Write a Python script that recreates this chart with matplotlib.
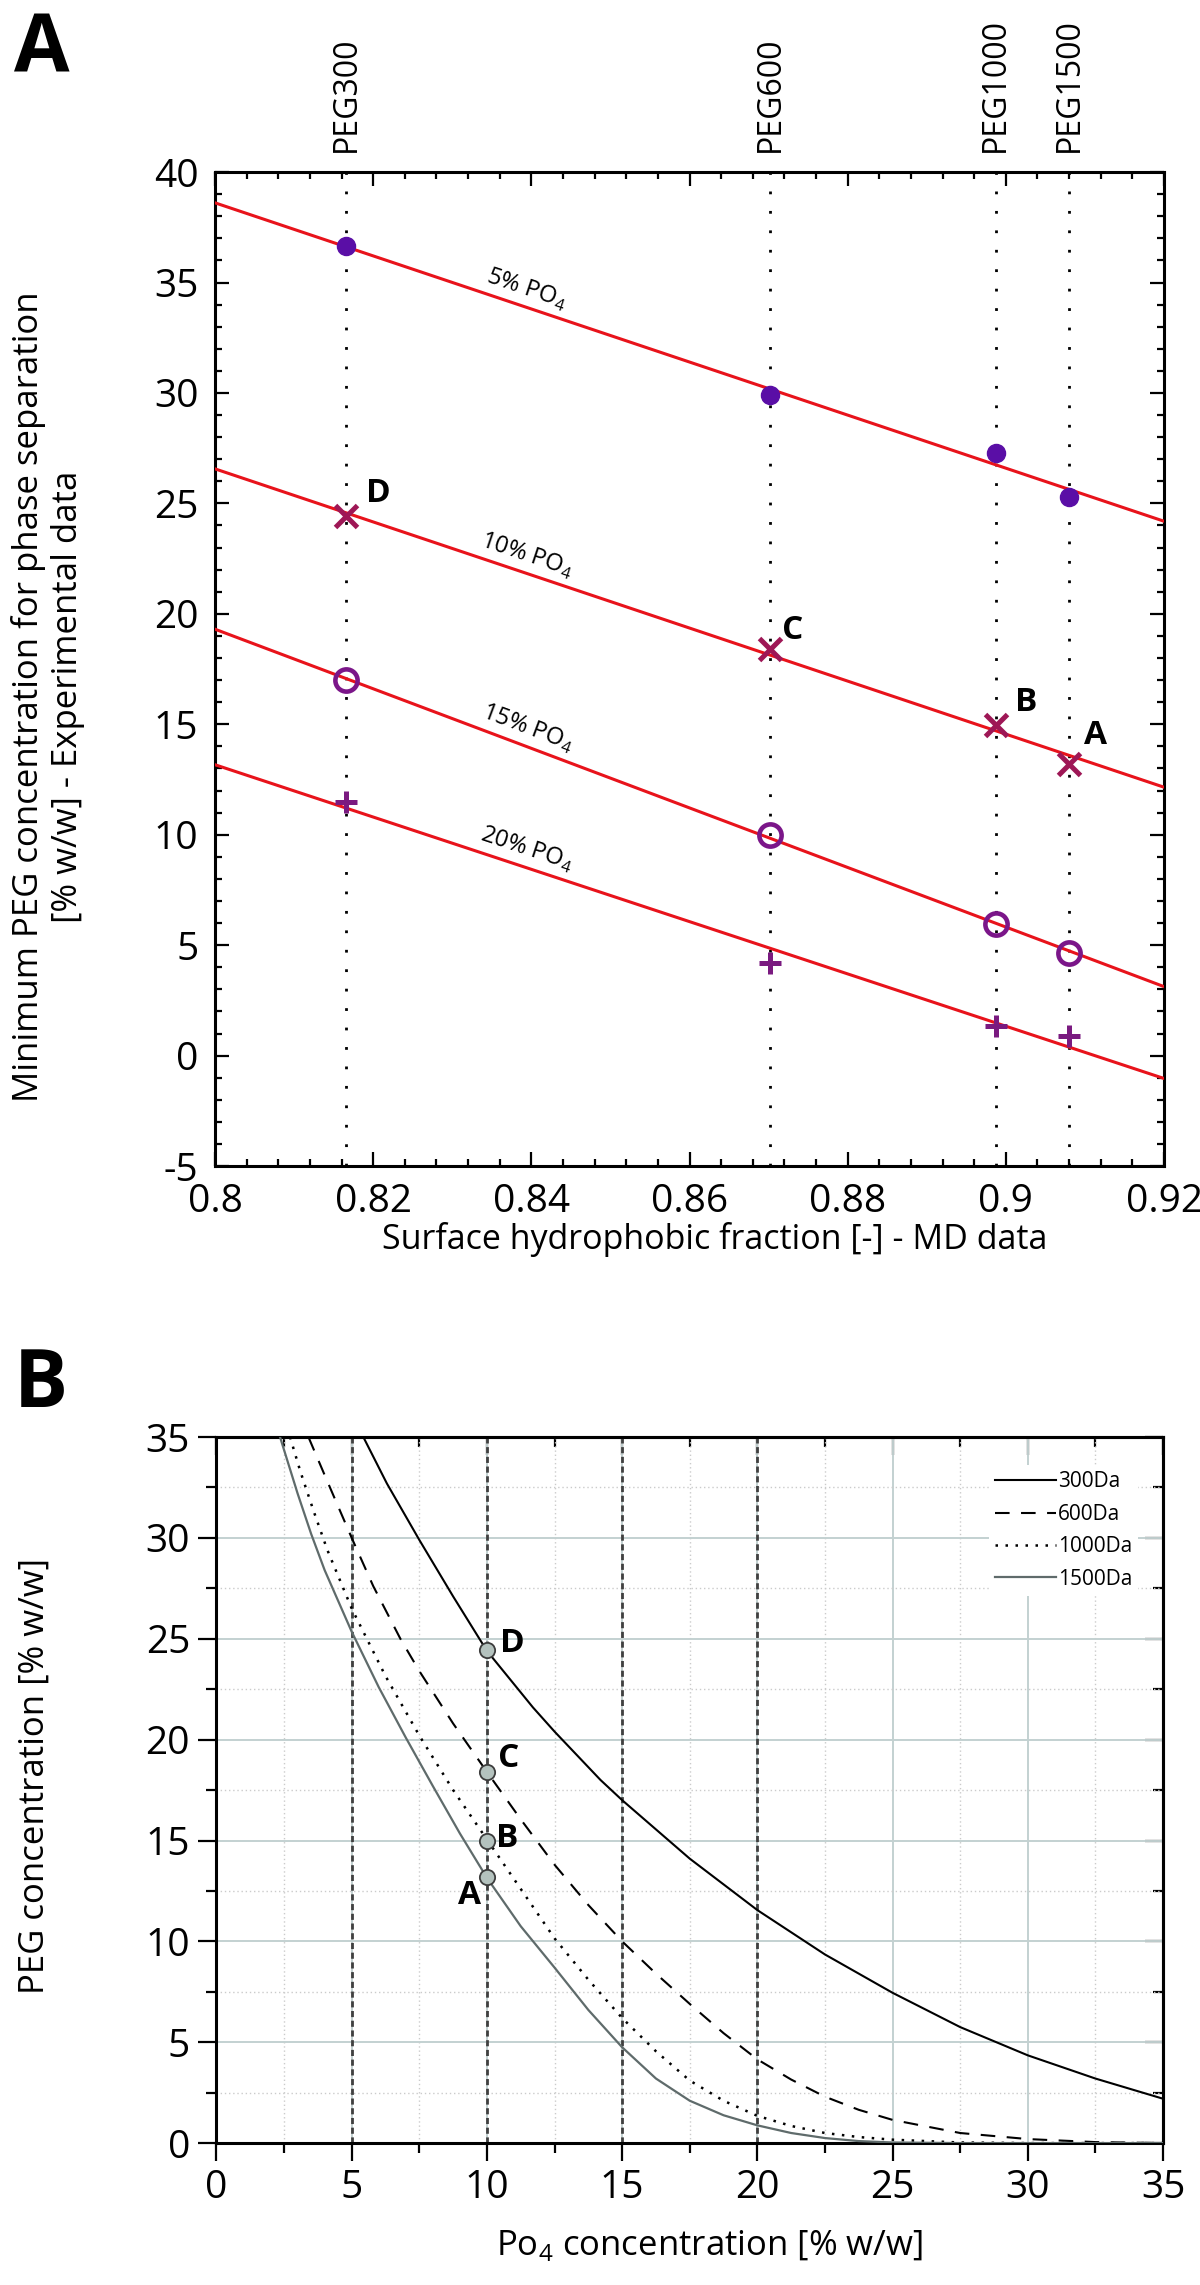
import numpy as np
import matplotlib
matplotlib.use("Agg")
import matplotlib.pyplot as plt
import matplotlib.transforms as mtransforms
from matplotlib.ticker import MultipleLocator

plt.rcParams['font.family'] = ['Open Sans', 'DejaVu Sans']
plt.rcParams['mathtext.fontset'] = 'custom'
plt.rcParams['mathtext.rm'] = 'Open Sans'
plt.rcParams['axes.unicode_minus'] = False

# ---- panel A data: minimum PEG for phase separation vs hydrophobic fraction
peg_names = ["PEG300", "PEG600", "PEG1000", "PEG1500"]
hydro_frac = [0.8166, 0.8702, 0.8987, 0.908]
po4_labels = ["5%", "10%", "15%", "20%"]
peg_min_5 = [36.67, 29.9, 27.3, 25.3]
peg_min_10 = [24.43, 18.4, 14.98, 13.19]
peg_min_15 = [17.0, 10.0, 5.98, 4.66]
peg_min_20 = [11.5, 4.17, 1.36, 0.90]
point_letters = ["D", "C", "B", "A"]

# ---- panel B data: binodal curves
po4_300 = [5.43, 6.3, 7.5, 8.75, 10, 11.7, 12.5, 14.2, 15, 17.5, 20, 22.5, 25, 27.5, 30, 32.5, 35]
peg_300 = [35, 32.7, 29.9, 27.1, 24.4, 21.6, 20.4, 18.0, 17.0, 14.1, 11.55, 9.35, 7.45, 5.75, 4.35, 3.2, 2.2]
po4_600 = [3.4, 4.1, 5, 5.8, 6.8, 7.5, 8.75, 10, 11.25, 12.5, 13.75, 15, 16.25, 17.5, 18.75, 20,
           21.25, 22.5, 23.75, 25, 27.5, 30, 32.5, 35]
peg_600 = [35, 32.8, 30.0, 27.6, 25.0, 23.4, 20.8, 18.4, 16.05, 13.8, 11.8, 10.0, 8.4, 6.9, 5.45, 4.15,
           3.15, 2.3, 1.65, 1.15, 0.5, 0.2, 0.05, 0.0]
po4_1000 = [2.72, 3.1, 3.6, 4.1, 5, 6.25, 7.5, 8.75, 10, 11.25, 12.5, 13.75, 15, 16.25, 17.5, 18.75,
            20, 21.25, 22.5, 23.75, 25, 27.5, 30, 35]
peg_1000 = [35, 33.3, 31.3, 29.4, 26.5, 23.15, 20.2, 17.5, 15.05, 12.6, 10.15, 8.1, 6.2, 4.55, 3.1, 2.1,
            1.35, 0.85, 0.5, 0.3, 0.17, 0.03, 0.0, 0.0]
po4_1500 = [2.35, 3.0, 3.5, 4.0, 5.0, 6.0, 7.0, 8.0, 9.0, 10, 11.25, 12.5, 13.75, 15, 16.25, 17.5,
            18.75, 20, 21.25, 22.5, 23.75, 25, 27.5, 35]
peg_1500 = [35, 32.2, 30.2, 28.4, 25.35, 22.6, 20.1, 17.7, 15.35, 13.15, 10.75, 8.7, 6.6, 4.75, 3.2, 2.1,
            1.38, 0.88, 0.5, 0.25, 0.1, 0.03, 0.0, 0.0]
curve_labels = ["300Da", "600Da", "1000Da", "1500Da"]
tie_po4 = [10, 10, 10, 10]
ref_po4_lines = [5, 10, 15, 20]

fig = plt.figure(figsize=(12, 22.85), dpi=100)

# =================== panel A ===================
axA = fig.add_axes([0.1792, 0.4897, 0.7908, 0.4350])
axA.set_xlim(0.8, 0.92)
axA.set_ylim(-5, 40)

for xv in hydro_frac:
    axA.axvline(xv, color="black", lw=2, ls=(0, (1, 6)), zorder=1)

series = [peg_min_5, peg_min_10, peg_min_15, peg_min_20]
styles = [
    dict(marker="o", ms=13, color="#5A0EA6", ls="none"),
    dict(marker="x", ms=16, mew=3.6, color="#9E1756", ls="none"),
    dict(marker="o", ms=16, mew=3.3, mfc="none", mec="#7B1689", ls="none"),
    dict(marker="+", ms=16, mew=3.6, color="#7A1A80", ls="none"),
]
xfit = np.array([0.8, 0.92])
for ys, st, lab in zip(series, styles, po4_labels):
    k, b = np.polyfit(hydro_frac, ys, 1)
    axA.plot(xfit, k * xfit + b, color="#E8131B", lw=2.2, zorder=3)
    axA.plot(hydro_frac, ys, zorder=4, **st)
    # label along the line
    p0 = axA.transData.transform((0.80, k * 0.80 + b))
    p1 = axA.transData.transform((0.92, k * 0.92 + b))
    ang = np.degrees(np.arctan2(p1[1] - p0[1], p1[0] - p0[0]))
    nx, ny = -np.sin(np.radians(ang)) * 12.5, np.cos(np.radians(ang)) * 12.5
    tr = mtransforms.offset_copy(axA.transData, fig=fig, x=nx, y=ny, units="points")
    xl = 0.8387
    axA.text(xl, k * xl + b, lab + r" PO$_\mathregular{4}$", transform=tr, rotation=ang,
             rotation_mode="anchor", ha="center", va="center", fontsize=17)

letter_off = [(22.8, 16.5), (16.5, 13.8), (22.2, 15.8), (18.8, 20.9)]
for xv, yv, let, off in zip(hydro_frac, peg_min_10, point_letters, letter_off):
    axA.annotate(let, (xv, yv), xytext=off, textcoords="offset points",
                 ha="center", va="center", fontsize=24, fontweight="bold")

for xv, name in zip(hydro_frac, peg_names):
    axA.text(xv, 1.02, name, transform=axA.get_xaxis_transform(), rotation=90,
             ha="center", va="bottom", fontsize=23)

axA.xaxis.set_minor_locator(MultipleLocator(0.004))
axA.yaxis.set_major_locator(MultipleLocator(5))
axA.yaxis.set_minor_locator(MultipleLocator(1))
axA.set_xticks([0.8, 0.82, 0.84, 0.86, 0.88, 0.9, 0.92])
axA.set_xticklabels(["0.8", "0.82", "0.84", "0.86", "0.88", "0.9", "0.92"])
axA.tick_params(which="both", direction="in", top=True, right=True, width=1.6, labelsize=28)
axA.tick_params(which="major", length=10, pad=12)
axA.tick_params(which="minor", length=5)
for s in axA.spines.values():
    s.set_linewidth(2.2)
axA.text(-0.176, 0.472, "Minimum PEG concentration for phase separation\n[% w/w] - Experimental data",
         transform=axA.transAxes, rotation=90, ha="center", va="center", fontsize=25,
         linespacing=1.2, multialignment="center")
axA.text(0.526, -0.074, "Surface hydrophobic fraction [-] - MD data", transform=axA.transAxes,
         ha="center", va="center", fontsize=24.5)
fig.text(42 / 1200, 1 - 52 / 2285, "A", fontsize=58, fontweight="bold", ha="center", va="center")

# =================== panel B ===================
axB = fig.add_axes([0.1804, 0.0621, 0.7888, 0.3090])
axB.set_xlim(0, 35)
axB.set_ylim(0, 35)
axB.xaxis.set_major_locator(MultipleLocator(5))
axB.xaxis.set_minor_locator(MultipleLocator(2.5))
axB.yaxis.set_major_locator(MultipleLocator(5))
axB.yaxis.set_minor_locator(MultipleLocator(2.5))
axB.grid(which="major", color="#C3D1D1", lw=1.4, zorder=0)
axB.grid(which="minor", color="#CBCBCB", lw=1.0, ls=(0, (1, 2)), zorder=0)
axB.set_axisbelow(True)

for xv in ref_po4_lines:
    axB.axvline(xv, color="#404040", lw=2.0, ls=(0, (2.2, 1.3)), zorder=1)

axB.plot(po4_300, peg_300, color="black", lw=1.5, label=curve_labels[0], zorder=3)
axB.plot(po4_600, peg_600, color="black", lw=1.5, ls=(0, (7, 5.5)), label=curve_labels[1], zorder=3)
axB.plot(po4_1000, peg_1000, color="black", lw=1.8, ls=(0, (1, 3)), label=curve_labels[2], zorder=3)
axB.plot(po4_1500, peg_1500, color="#5F6B6B", lw=1.6, label=curve_labels[3], zorder=3)
axB.plot(tie_po4, peg_min_10, ls="none", marker="o", ms=11, mfc="#B4C2BE", mec="#3C3C3C",
         mew=1.3, zorder=5, clip_on=False)

letter_offB = [(18.5, 5), (16, 10), (14.5, 1.5), (-12.5, -13.5)]
for yv, let, off in zip(peg_min_10, point_letters, letter_offB):
    axB.annotate(let, (10, yv), xytext=off, textcoords="offset points",
                 ha="center", va="center", fontsize=24, fontweight="bold", zorder=6)

leg = axB.legend(loc="upper right", bbox_to_anchor=(0.985, 0.975), fontsize=15,
                 handlelength=2.9, handletextpad=0.1, labelspacing=0.55,
                 frameon=True, facecolor="white", edgecolor="none", framealpha=1,
                 borderpad=0.3)
leg.set_zorder(4)

axB.tick_params(which="both", direction="out", labelsize=28, width=1.6)
axB.tick_params(which="major", length=13, pad=6)
axB.tick_params(which="minor", length=7)
for s in axB.spines.values():
    s.set_linewidth(2.2)
secx = axB.secondary_xaxis("top")
secx.xaxis.set_major_locator(MultipleLocator(5))
secx.xaxis.set_minor_locator(MultipleLocator(2.5))
secx.tick_params(which="both", direction="in", labeltop=False, width=1.6)
secx.tick_params(which="major", length=13)
secx.tick_params(which="minor", length=7)
secy = axB.secondary_yaxis("right")
secy.yaxis.set_major_locator(MultipleLocator(5))
secy.yaxis.set_minor_locator(MultipleLocator(2.5))
secy.tick_params(which="both", direction="in", labelright=False, width=1.6)
secy.tick_params(which="major", length=13)
secy.tick_params(which="minor", length=7)
for sa in (secx, secy):
    for s in sa.spines.values():
        s.set_linewidth(2.2)

axB.text(-0.192, 0.52, "PEG concentration [% w/w]", transform=axB.transAxes, rotation=90,
         ha="center", va="center", fontsize=25)
axB.text(0.521, -0.145, r"Po$_\mathregular{4}$ concentration [% w/w]", transform=axB.transAxes,
         ha="center", va="center", fontsize=25)
fig.text(41 / 1200, 1 - 1386 / 2285, "B", fontsize=58, fontweight="bold", ha="center", va="center")

fig.savefig("out.png", dpi=100)
